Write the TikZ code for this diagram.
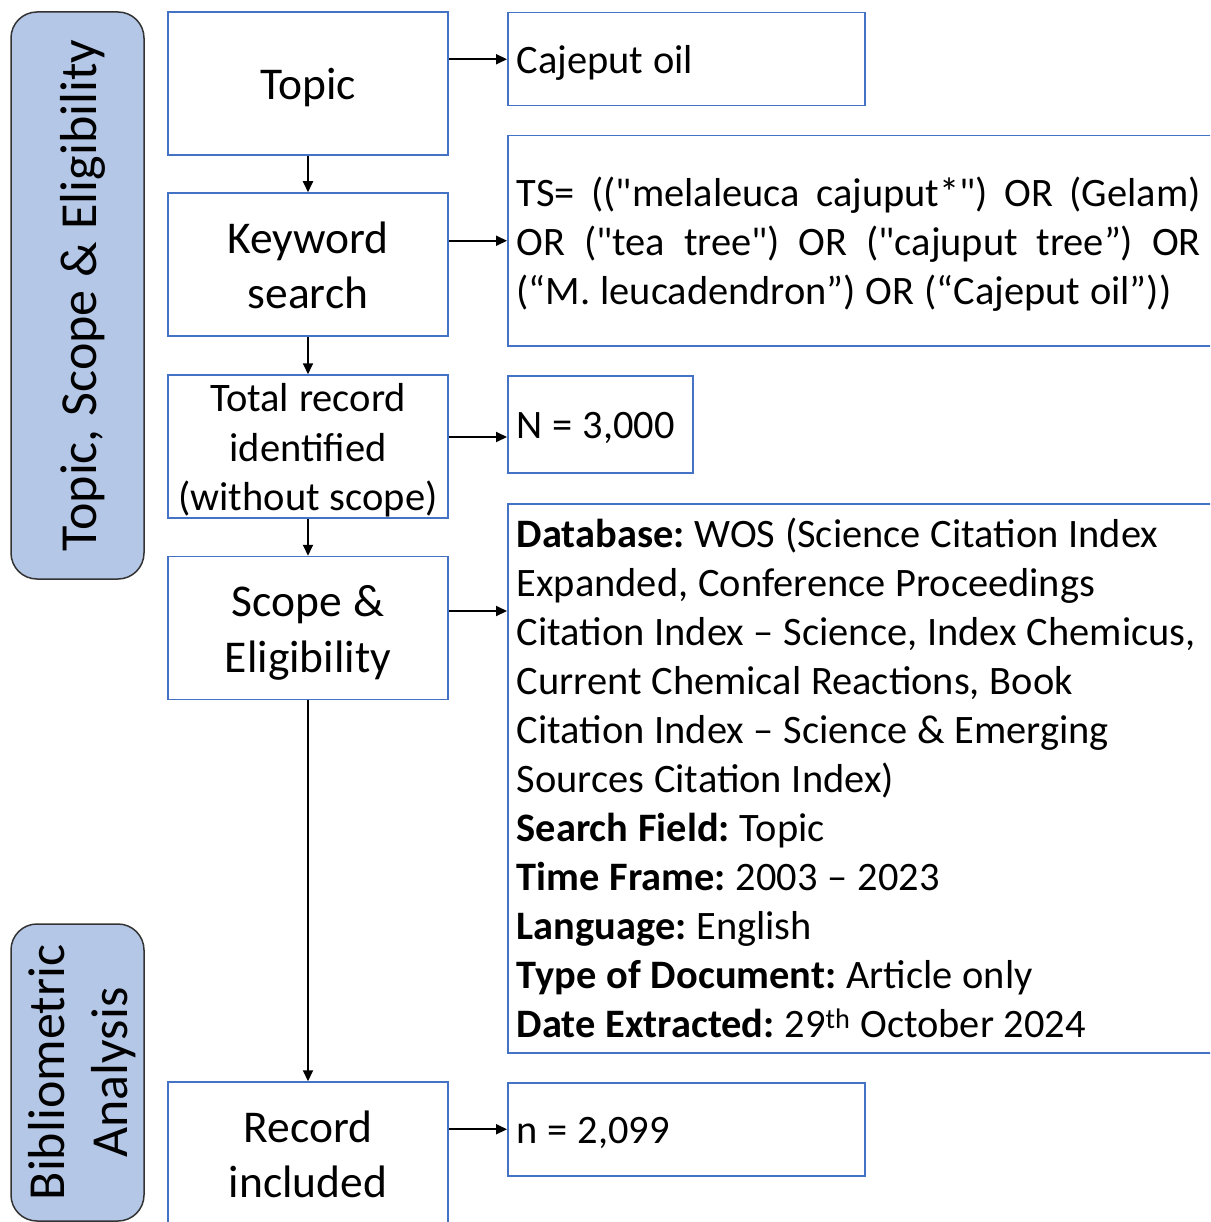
\documentclass[tikz,border=0pt]{standalone}
\usepackage{fontspec}
\setmainfont{Carlito}[Ligatures=TeXOff]
\usetikzlibrary{arrows.meta}
\definecolor{boxblue}{HTML}{4472C4}
\definecolor{barfill}{HTML}{B4C7E7}
% line strut: one line pitch tall, 0.25em of it below the baseline
\newcommand\ps{\rule[-0.25em]{0pt}{\baselineskip}}
% trimmed struts for a first / last line that must fit a tight box
\newcommand\pstop{\rule[-0.25em]{0pt}{\dimexpr\baselineskip-2.6pt\relax}}
\newcommand\psbot{\rule[\dimexpr-0.25em+2.6pt\relax]{0pt}{\dimexpr\baselineskip-2.6pt\relax}}
% font size and line pitch
\newcommand\fs[2]{\fontsize{#1}{#2}\selectfont\frenchspacing}
% word spaces close to the font's own (node alignment would widen them)
\newcommand\fontspaces{\spaceskip=0.245em plus 0.05em minus 0.03em\xspaceskip=0pt\relax}
\newcommand\justline[1]{\parbox[t]{684pt}{\spaceskip=0.245em plus 0.6em\relax
  \rightskip=0pt\parfillskip=0pt plus 1fil\relax #1}}
\begin{document}
\begin{tikzpicture}[x=1pt,y=-1pt,
  every node/.append style={execute at begin node=\fontspaces},
  flow/.style={draw=boxblue, line width=1.5pt, minimum width=280pt, minimum height=143pt,
    inner sep=0pt, align=center, font=\fs{45.5}{55.5}},
  info/.style={draw=boxblue, line width=1.5pt, anchor=north west, inner xsep=9pt,
    inner ysep=0pt, align=left, font=\fs{40.4}{49}},
  sidebar/.style={draw=black!80, fill=barfill, line width=1.5pt, rounded corners=26pt},
  arr/.style={-{Triangle[length=11pt,width=10pt]}, line width=2pt}]
\useasboundingbox (0,0) rectangle (1210,1222);
\clip (0,0) rectangle (1210,1222);

% phase bars on the left
\draw[sidebar] (11,12) rectangle (144,579);
\node[rotate=90, inner sep=0pt, font=\fs{52}{63.4}] (phase1) at (77.5,295.5) {\ps Topic, Scope \& Eligibility};
\draw[sidebar] (11,924) rectangle (144,1221);
\node[rotate=90, inner sep=0pt, align=center, font=\fs{52}{63.4}] (phase2) at (77.5,1072.5) {\ps Bibliometric\\\ps Analysis};

% main flow
\node[flow] (topic) at (308,83.5) {\ps Topic};
\node[flow] (kw) at (308,264.5) {\ps Keyword\\\ps search};
\node[flow, font=\fs{40.5}{49.4}] (total) at (308,446.5) {\pstop Total record\\\ps identified\\\psbot (without scope)};
\node[flow] (scope) at (308,628) {\ps Scope \&\\\ps Eligibility};
\node[flow] (rec) at (308,1153.5) {\ps Record\\\ps included};

% details on the right
\node[info, text width=339pt, minimum height=93pt] (oil) at (507,12) {\ps Cajeput oil};
\node[info, text width=700pt, minimum height=210pt] (ts) at (507,135) {\justline{\ps TS= (("melaleuca cajuput*") OR (Gelam)\linebreak
\ps OR ("tea tree") OR ("cajuput tree”) OR\linebreak
\ps (“M. leucadendron”) OR (“Cajeput oil”))}};
\node[info, text width=167pt, minimum height=97pt] (nall) at (507,375) {\ps N = 3,000};
\node[info, text width=700pt, minimum height=549pt] (db) at (507,503) {%
\ps\textbf{Database:} WOS (Science Citation Index\\
\ps Expanded, Conference Proceedings\\
\ps Citation Index – Science, Index Chemicus,\\
\ps Current Chemical Reactions, Book\\
\ps Citation Index – Science \& Emerging\\
\ps Sources Citation Index)\\
\ps\textbf{Search Field:} Topic\\
\ps\textbf{Time Frame:} 2003 – 2023\\
\ps\textbf{Language:} English\\
\ps\textbf{Type of Document:} Article only\\
\ps\textbf{Date Extracted:} 29\textsuperscript{th} October 2024};
\node[info, text width=339pt, minimum height=93pt] (nin) at (507,1082) {\ps n = 2,099};

% connectors
\draw[arr] (topic.south) -- (kw.north);
\draw[arr] (kw.south) -- (total.north);
\draw[arr] (total.south) -- (scope.north);
\draw[arr] (scope.south) -- (rec.north);
\draw[arr] (topic.east |- oil.west) -- (oil.west);
\draw[arr] (kw.east |- ts.west) -- (ts.west);
\draw[arr] ([yshift=9.5pt]total.east) -- ([yshift=9.5pt]total.east -| nall.west);
\draw[arr] ([yshift=17pt]scope.east) -- ([yshift=17pt]scope.east -| db.west);
\draw[arr] (rec.east |- nin.west) -- (nin.west);
\end{tikzpicture}
\end{document}
